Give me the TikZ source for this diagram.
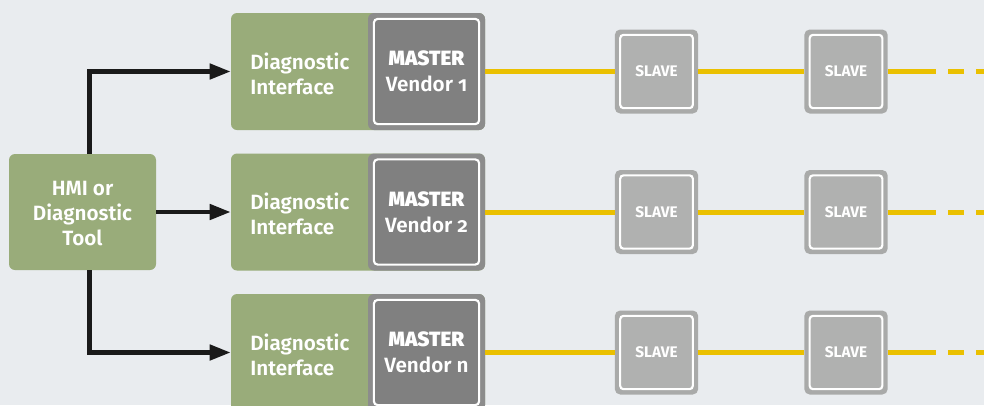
\documentclass[tikz,border=0pt]{standalone}
\usepackage{fontspec}
\setmainfont{Fira Sans}[RawFeature=+onum, BoldFont={Fira Sans SemiBold}, BoldFeatures={RawFeature=+onum}]
\newfontfamily\heavyfont{Fira Sans Bold}[RawFeature=+onum]
\usetikzlibrary{arrows.meta,calc}
\definecolor{bgc}{HTML}{E9ECEF}
\definecolor{greenc}{HTML}{99AC7A}
\definecolor{masterc}{HTML}{808080}
\definecolor{masterring}{HTML}{8C8C8C}
\definecolor{slavec}{HTML}{B0B1B0}
\definecolor{slavering}{HTML}{A9AAA9}
\definecolor{busc}{HTML}{EAC000}
\definecolor{arrc}{HTML}{1A1A1A}
\tikzset{
  greenbox/.style={fill=greenc, rounded corners=4.5pt, inner sep=0pt},
  masterouter/.style={fill=masterring, rounded corners=4.5pt, inner sep=0pt, minimum width=87.75pt, minimum height=87.75pt},
  masterinner/.style={fill=masterc, draw=white, line width=1.6pt, rounded corners=3pt, inner sep=0pt, minimum width=79pt, minimum height=79pt, text=white, align=center, font=\bfseries\fontsize{15.5}{19.5}\selectfont},
  slaveouter/.style={fill=slavering, rounded corners=4pt, inner sep=0pt, minimum width=62.5pt, minimum height=63pt},
  slaveinner/.style={fill=slavec, draw=white, line width=1.6pt, rounded corners=2.5pt, inner sep=0pt, minimum width=54.5pt, minimum height=55pt, text=white, font=\heavyfont\fontsize{11.5}{13}\selectfont},
  gtext/.style={text=white, font=\bfseries\fontsize{15.5}{18.75}\selectfont, inner sep=0pt},
  arr/.style={draw=arrc, line width=3.4pt, -{Triangle[length=15.75pt,width=11.25pt]}},
  bus/.style={draw=busc, line width=3.75pt},
}
\begin{document}
\begin{tikzpicture}[x=0.75pt,y=-0.75pt]
\fill[bgc] (0,0) rectangle (984,405);
\useasboundingbox (0,0) rectangle (984,405);
% HMI
\node[greenbox, minimum width=110.25pt, minimum height=87pt] (hmi) at (82.5,212) {};
\node[gtext, align=center] (hmit) at (82.5,214) {HMI or\\Diagnostic\\Tool};
% rows
\foreach \r/\y/\v in {1/71.5/1, 2/212/2, 3/352.5/n}{
  \node[greenbox, minimum width=190.5pt, minimum height=87.75pt] (d\r) at (358,\y) {};
  \node[gtext, align=left, anchor=west] (dt\r) at (250,\y+2) {Diagnostic\\Interface};
  \node[masterouter] (m\r) at (426.5,\y) {};
  \node[masterinner] (mi\r) at (426.5,\y) {{\heavyfont MASTER}\\Vendor \v};
  \node[slaveouter] (sa\r) at (656.5,\y) {};
  \node[slaveinner] (sai\r) at (656.5,\y) {SLAVE};
  \node[slaveouter] (sb\r) at (846,\y) {};
  \node[slaveinner] (sbi\r) at (846,\y) {SLAVE};
  \coordinate (e\r) at (936,\y);
  \coordinate (g\r) at (948,\y);
  \coordinate (f\r) at (984,\y);
  \draw[bus] (m\r.east) -- (sa\r.west);
  \draw[bus] (sa\r.east) -- (sb\r.west);
  \draw[bus] (sb\r.east) -- (e\r);
  \draw[bus, dash pattern=on 12pt off 9pt] (g\r) -- (f\r);
}
% arrows
\coordinate (hn) at ($(hmi.north)+(7,0)$);
\coordinate (hs) at ($(hmi.south)+(7,0)$);
\draw[arr] (hn) |- (d1.west);
\draw[arr] (hs) |- (d3.west);
\draw[arr] (hmi.east) -- (d2.west);
\end{tikzpicture}
\end{document}
